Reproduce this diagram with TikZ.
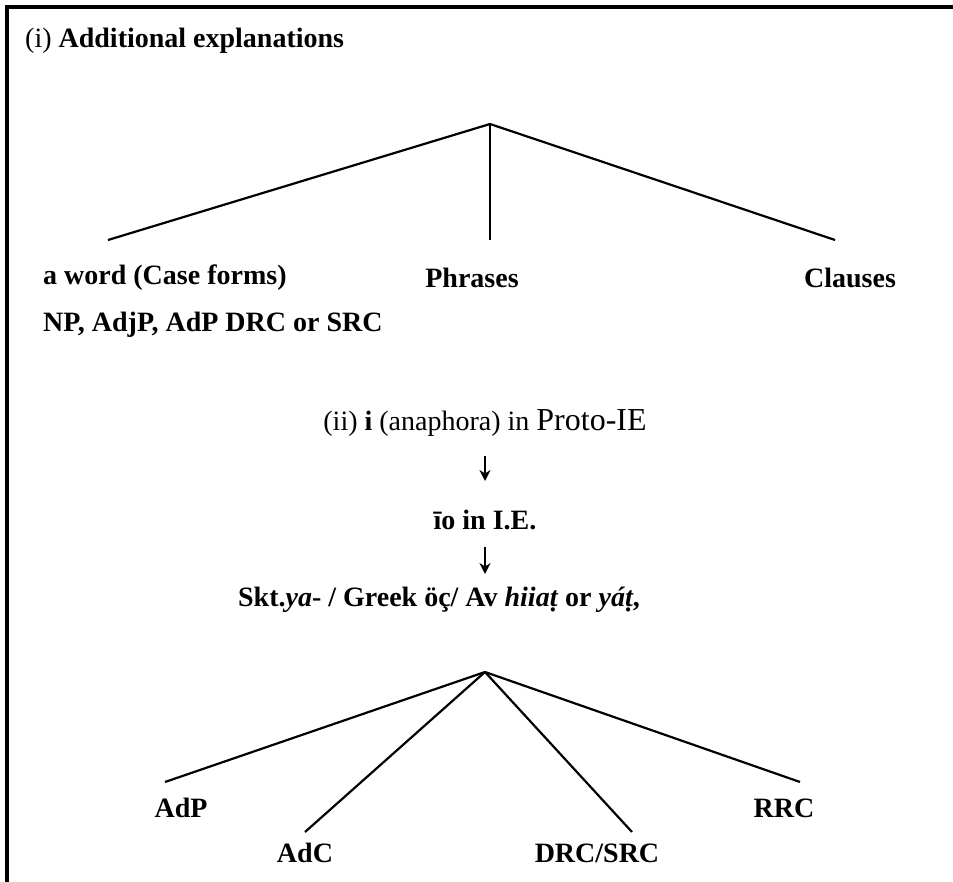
\documentclass[tikz,border=0pt]{standalone}
\usepackage{fontspec}
\setmainfont{Liberation Serif}
\usetikzlibrary{arrows.meta}
\begin{document}
\begin{tikzpicture}[x=1pt,y=-1pt,
  lbl/.style={font=\fontsize{28}{33}\selectfont\bfseries, inner sep=0pt},
  branch/.style={line width=2.2pt},
  frame/.style={line width=3.2pt},
  down/.style={line width=2.4pt, -{Stealth[length=11pt,width=11pt]}}]
\useasboundingbox (0,0) rectangle (953,882);
\coordinate (tl) at (7,7);
\coordinate (tr) at (953,7);
\coordinate (bl) at (7,882);
\draw[frame] (tr) -- (tl) -- (bl);

\node[lbl, anchor=west] (title) at (25,41) {\mdseries(i)\ \bfseries Additional explanations};

\coordinate (apex1) at (490,124);
\coordinate (e1) at (108,240);
\coordinate (e2) at (490,240);
\coordinate (e3) at (835,240);
\draw[branch] (e1) -- (apex1) -- (e3);
\draw[branch] (apex1) -- (e2);

\node[lbl, anchor=west] (word) at (43,278) {a word (Case forms)};
\node[lbl] (phr) at (472,278) {Phrases};
\node[lbl] (cla) at (850,278) {Clauses};
\node[lbl, anchor=west] (np) at (43,325) {NP, AdjP, AdP DRC or SRC};

\node[lbl] (ii) at (485,423) {\mdseries(ii) \bfseries i \mdseries(anaphora) in {\fontsize{32}{37}\selectfont Proto-IE}};
\node[lbl] (io) at (485,520) {īo in I.E.};
\node[lbl] (skt) at (439,600) {Skt.\textit{ya}- / Greek öç/ Av \textit{hiiaṭ} or \textit{yáṭ},};
\coordinate (a1s) at (485,456);
\coordinate (a1e) at (485,481);
\coordinate (a2s) at (485,547);
\coordinate (a2e) at (485,574);
\draw[down] (a1s) -- (a1e);
\draw[down] (a2s) -- (a2e);

\coordinate (apex2) at (485,672);
\coordinate (f1) at (165,782);
\coordinate (f2) at (305,832);
\coordinate (f3) at (632,832);
\coordinate (f4) at (800,782);
\draw[branch] (apex2) -- (f1);
\draw[branch] (apex2) -- (f2);
\draw[branch] (apex2) -- (f3);
\draw[branch] (apex2) -- (f4);

\node[lbl] (adp) at (181,808) {AdP};
\node[lbl] (adc) at (305,853) {AdC};
\node[lbl] (drc) at (597,853) {DRC/SRC};
\node[lbl] (rrc) at (784,808) {RRC};
\end{tikzpicture}
\end{document}
